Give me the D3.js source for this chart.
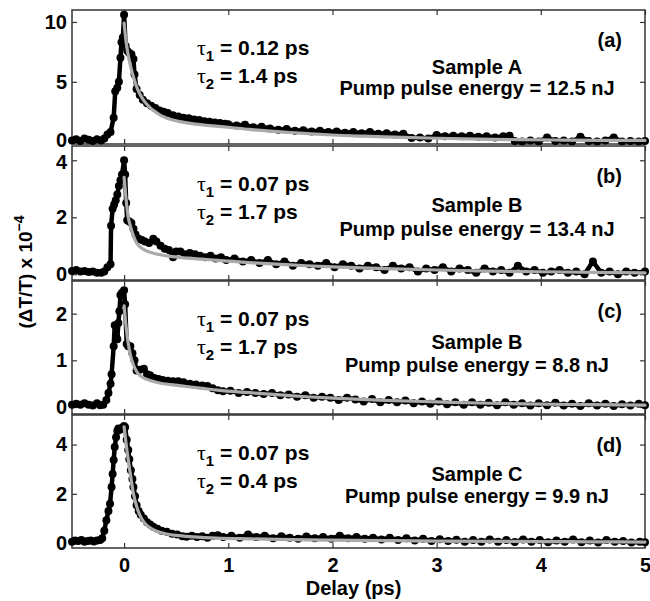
<!DOCTYPE html>
<html>
<head>
<meta charset="utf-8">
<script src="https://cdn.jsdelivr.net/npm/d3@7"></script>
<style>
  body { margin: 0; background: #fff; }
  svg { display: block; font-family: "Liberation Sans", Arial, Helvetica, sans-serif; font-weight: bold; }
</style>
</head>
<body>
<svg id="chart" width="650" height="601"></svg>
<script>
// ---------------- DATA ----------------
const xDomain = [-0.5, 5];
const xTicks = [0, 1, 2, 3, 4, 5];
const panelLabels = ["(a)", "(b)", "(c)", "(d)"];
const sampleNames = ["Sample A", "Sample B", "Sample B", "Sample C"];
const pumpEnergies = ["12.5", "13.4", "8.8", "9.9"];
const tau1Values = ["0.12", "0.07", "0.07", "0.07"];
const tau2Values = ["1.4", "1.7", "1.7", "0.4"];
const yDomains = [[-0.2, 11], [-0.2, 4.5], [-0.15, 2.7], [-0.2, 5.2]];
const yTickValues = [[0, 5, 10], [0, 2, 4], [0, 1, 2], [0, 2, 4]];

// measured points [delay (ps), ΔT/T x1e-4]
const dataA = [[-0.5,0.1],[-0.46,0.2],[-0.42,0.05],[-0.38,0.25],[-0.34,0.15],[-0.3,0.05],[-0.26,0.2],[-0.22,0.1],[-0.19,0.25],[-0.16,0.6],[-0.13,0.8],[-0.1,2.0],[-0.085,4.2],[-0.065,4.5],[-0.05,5.0],[-0.035,7.0],[-0.025,8.3],[-0.012,8.7],[0.0,10.6],[0.015,8.0],[0.03,7.6],[0.05,7.4],[0.07,7.3],[0.09,6.9],[0.1,5.6],[0.12,4.4],[0.15,3.9],[0.18,3.5],[0.22,3.2],[0.26,3.0],[0.3,2.8],[0.34,2.6],[0.38,2.5],[0.42,2.4],[0.47,2.2],[0.52,2.1],[0.57,2.0],[0.62,1.95],[0.67,1.85],[0.72,1.8],[0.77,1.7],[0.82,1.65],[0.87,1.6],[0.92,1.55],[0.97,1.5],
  [1.0,1.45],[1.08,1.35],[1.16,1.4],[1.24,1.2],[1.32,1.25],[1.4,1.1],[1.48,1.0],[1.56,1.05],[1.64,0.9],[1.72,0.95],[1.8,0.85],[1.88,0.9],[1.96,0.8],[2.04,0.85],[2.12,0.75],[2.2,0.8],[2.28,0.7],[2.36,0.8],[2.44,0.65],[2.52,0.7],[2.6,0.6],[2.68,0.65],[2.76,0.3],[2.84,0.35],[2.92,0.25],[3.0,0.55],[3.08,0.45],[3.16,0.5],[3.24,0.45],[3.32,0.5],[3.4,0.4],[3.48,0.45],[3.56,0.35],[3.64,0.45],[3.7,0.5],[3.75,0.05],[3.82,0.0],[3.9,0.1],[3.98,0.0],[4.06,0.35],[4.14,0.05],[4.22,0.1],[4.3,0.0],[4.38,0.4],[4.46,0.05],[4.54,0.0],[4.62,0.1],[4.7,0.35],[4.78,0.0],[4.86,0.05],[4.94,0.0],[5.0,0.05]];
const fitA = [[0,9.9],[0.02,8.3],[0.04,7.2],[0.06,6.4],[0.08,5.7],[0.1,5.1],[0.12,4.6],[0.15,4.0],[0.18,3.55],[0.22,3.1],[0.26,2.75],[0.3,2.5],[0.35,2.2],[0.4,2.0],[0.47,1.8],[0.55,1.65],[0.65,1.5],[0.75,1.4],[0.9,1.28],[1.0,1.2],[1.2,1.02],[1.4,0.88],[1.6,0.76],[1.8,0.65],[2.0,0.55],[2.3,0.45],[2.6,0.37],[3.0,0.28],[3.4,0.21],[3.8,0.16],[4.2,0.13],[4.6,0.11],[5.0,0.1]];

const dataB = [[-0.5,0.12],[-0.46,0.15],[-0.42,0.1],[-0.38,0.12],[-0.34,0.08],[-0.3,0.1],[-0.26,0.05],[-0.22,0.05],[-0.19,0.1],[-0.16,0.25],[-0.13,0.35],[-0.125,1.7],[-0.11,2.3],[-0.095,2.45],[-0.08,2.6],[-0.065,2.8],[-0.05,3.1],[-0.035,3.3],[-0.02,3.5],[0.0,4.0],[0.01,3.5],[0.02,2.5],[0.03,1.9],[0.05,1.85],[0.07,1.8],[0.09,1.6],[0.11,1.4],[0.14,1.25],[0.17,1.2],[0.2,1.15],[0.24,1.1],[0.28,1.25],[0.31,1.15],[0.35,1.0],[0.39,0.9],[0.43,0.85],[0.47,0.6],[0.5,0.8],[0.54,0.8],[0.58,0.7],[0.63,0.75],[0.68,0.7],[0.73,0.65],[0.78,0.6],[0.83,0.65],[0.88,0.55],[0.93,0.6],[0.98,0.5],
  [1.06,0.55],[1.14,0.45],[1.22,0.5],[1.3,0.4],[1.38,0.5],[1.46,0.35],[1.54,0.45],[1.62,0.3],[1.7,0.4],[1.78,0.35],[1.86,0.3],[1.94,0.4],[2.02,0.25],[2.1,0.35],[2.18,0.3],[2.26,0.2],[2.34,0.3],[2.42,0.25],[2.5,0.15],[2.58,0.3],[2.66,0.2],[2.74,0.25],[2.82,0.1],[2.9,0.2],[2.98,0.15],[3.06,0.25],[3.14,0.1],[3.22,0.2],[3.3,0.15],[3.38,0.05],[3.46,0.2],[3.54,0.1],[3.62,0.15],[3.7,0.05],[3.78,0.3],[3.86,0.1],[3.94,0.15],[4.02,0.05],[4.1,0.1],[4.18,0.15],[4.26,0.05],[4.34,0.1],[4.42,0.0],[4.5,0.45],[4.58,0.05],[4.66,0.1],[4.74,0.0],[4.82,0.1],[4.9,0.05],[5.0,0.1]];
const fitB = [[0,3.4],[0.02,2.6],[0.04,2.0],[0.06,1.7],[0.08,1.45],[0.1,1.25],[0.12,1.1],[0.15,0.97],[0.2,0.85],[0.25,0.77],[0.3,0.72],[0.4,0.65],[0.5,0.61],[0.6,0.57],[0.75,0.53],[0.9,0.49],[1.0,0.46],[1.25,0.4],[1.5,0.35],[1.75,0.3],[2.0,0.26],[2.5,0.2],[3.0,0.15],[3.5,0.11],[4.0,0.09],[4.5,0.07],[5.0,0.05]];

const dataC = [[-0.5,0.05],[-0.46,0.07],[-0.42,0.05],[-0.38,0.08],[-0.34,0.05],[-0.3,0.03],[-0.26,0.08],[-0.23,0.04],[-0.2,0.05],[-0.17,0.15],[-0.15,0.3],[-0.13,0.5],[-0.12,0.7],[-0.1,1.3],[-0.09,1.75],[-0.075,1.5],[-0.065,1.45],[-0.055,1.8],[-0.045,2.05],[-0.035,2.4],[-0.02,2.45],[0.0,2.5],[0.01,2.2],[0.025,1.35],[0.04,1.3],[0.06,1.3],[0.08,1.15],[0.1,1.0],[0.12,0.78],[0.15,0.8],[0.19,0.82],[0.22,0.7],[0.25,0.68],[0.29,0.62],[0.33,0.6],[0.37,0.58],[0.42,0.56],[0.47,0.55],[0.52,0.55],[0.57,0.53],[0.63,0.5],[0.69,0.48],[0.75,0.46],[0.8,0.45],[0.85,0.4],[0.9,0.36],[0.95,0.34],
  [1.02,0.35],[1.1,0.3],[1.18,0.32],[1.26,0.3],[1.34,0.28],[1.42,0.3],[1.5,0.25],[1.58,0.27],[1.66,0.22],[1.74,0.25],[1.82,0.2],[1.9,0.22],[1.98,0.2],[2.06,0.15],[2.14,0.2],[2.22,0.16],[2.3,0.12],[2.38,0.17],[2.46,0.1],[2.54,0.15],[2.62,0.1],[2.7,0.14],[2.78,0.08],[2.86,0.12],[2.94,0.07],[3.02,0.12],[3.1,0.06],[3.18,0.1],[3.26,0.05],[3.34,0.1],[3.42,0.05],[3.5,0.09],[3.58,0.04],[3.66,0.1],[3.74,0.05],[3.82,0.08],[3.9,0.03],[3.98,0.08],[4.06,0.04],[4.14,0.09],[4.22,0.03],[4.3,0.07],[4.38,0.02],[4.46,0.08],[4.54,0.03],[4.62,0.07],[4.7,0.02],[4.78,0.06],[4.86,0.03],[4.94,0.07],[5.0,0.04]];
const fitC = [[0,2.17],[0.02,1.7],[0.04,1.36],[0.06,1.12],[0.09,0.9],[0.12,0.76],[0.15,0.68],[0.19,0.62],[0.25,0.57],[0.35,0.51],[0.45,0.48],[0.6,0.44],[0.75,0.4],[0.9,0.36],[1.0,0.34],[1.25,0.3],[1.5,0.26],[1.75,0.22],[2.0,0.19],[2.5,0.14],[3.0,0.11],[3.5,0.08],[4.0,0.06],[4.5,0.05],[5.0,0.04]];

const dataD = [[-0.5,0.05],[-0.47,0.1],[-0.44,0.08],[-0.41,0.12],[-0.38,0.05],[-0.35,0.08],[-0.32,0.1],[-0.29,0.06],[-0.26,0.1],[-0.23,0.12],[-0.21,0.2],[-0.19,0.5],[-0.17,0.93],[-0.15,1.3],[-0.135,1.6],[-0.12,2.28],[-0.11,2.8],[-0.1,3.37],[-0.09,3.9],[-0.077,4.3],[-0.065,4.55],[-0.055,4.65],[-0.04,4.6],[-0.025,4.65],[-0.013,4.7],[0.0,4.75],[0.01,4.7],[0.025,4.2],[0.04,3.78],[0.05,3.4],[0.065,2.96],[0.08,2.6],[0.09,2.28],[0.105,1.9],[0.12,1.54],[0.14,1.3],[0.16,1.15],[0.19,1.0],[0.22,0.85],[0.25,0.75],[0.28,0.66],[0.32,0.58],[0.36,0.5],[0.41,0.46],[0.46,0.38],[0.51,0.35],[0.56,0.28],[0.6,0.26],[0.65,0.3],[0.7,0.25],[0.75,0.28],[0.8,0.22],[0.85,0.3],[0.9,0.32],[0.95,0.25],
  [1.03,0.3],[1.11,0.22],[1.19,0.35],[1.27,0.25],[1.35,0.3],[1.43,0.2],[1.51,0.28],[1.59,0.22],[1.67,0.18],[1.75,0.27],[1.83,0.2],[1.91,0.25],[1.99,0.18],[2.07,0.3],[2.15,0.2],[2.23,0.25],[2.31,0.18],[2.39,0.22],[2.47,0.15],[2.55,0.22],[2.63,0.12],[2.71,0.2],[2.79,0.1],[2.87,0.18],[2.95,0.08],[3.03,0.16],[3.11,0.08],[3.19,0.14],[3.27,0.05],[3.35,0.12],[3.43,0.05],[3.51,0.15],[3.59,0.05],[3.67,0.12],[3.75,0.04],[3.83,0.15],[3.91,0.05],[3.99,0.12],[4.07,0.03],[4.15,0.1],[4.23,0.05],[4.31,0.15],[4.39,0.03],[4.47,0.1],[4.55,0.02],[4.63,0.12],[4.71,0.05],[4.79,0.08],[4.87,0.02],[4.95,0.05],[5.0,0.03]];
const fitD = [[0,4.72],[0.02,4.0],[0.04,3.37],[0.06,2.8],[0.09,2.0],[0.12,1.5],[0.15,1.14],[0.19,0.85],[0.25,0.62],[0.32,0.47],[0.41,0.37],[0.5,0.31],[0.67,0.25],[0.89,0.2],[1.2,0.17],[1.6,0.14],[2.0,0.12],[2.5,0.1],[3.0,0.08],[3.5,0.07],[4.0,0.06],[4.5,0.05],[5.0,0.04]];

const measured = [dataA, dataB, dataC, dataD];
const fits = [fitA, fitB, fitC, fitD];

// ---------------- LAYOUT ----------------
const plotLeft = 72, plotRight = 645;
const panelTops = [10, 146, 281, 415];
const panelBottoms = [144, 280, 414, 548];
const sampleDy = [64, 66, 68, 66];
const pumpDy = [85, 90, 91, 88];
const textX = 477;
const FS = "20px";
// small vertical nudges of tick labels so neighbouring panels' labels do not collide
const bottomTickNudge = [-2, 0, 0, 0];
const topTickNudge = [0, 2, 0, 0];

const svg = d3.select("#chart");
const x = d3.scaleLinear().domain(xDomain).range([plotLeft, plotRight]);
const frameColor = "#333";

measured.forEach((data, i) => {
  const top = panelTops[i], bottom = panelBottoms[i];
  const y = d3.scaleLinear().domain(yDomains[i]).range([bottom, top]);
  const g = svg.append("g");

  // axes (inside ticks, Matlab-style)
  const left = g.append("g").attr("transform", `translate(${plotLeft},0)`)
    .call(d3.axisLeft(y).tickValues(yTickValues[i]).tickSizeInner(-5).tickSizeOuter(0).tickPadding(5)
      .tickFormat(d3.format("d")));
  const right = g.append("g").attr("transform", `translate(${plotRight},0)`)
    .call(d3.axisRight(y).tickValues(yTickValues[i]).tickSizeInner(-5).tickSizeOuter(0).tickFormat(""));
  const topAx = g.append("g").attr("transform", `translate(0,${top})`)
    .call(d3.axisTop(x).tickValues(xTicks).tickSizeInner(-5).tickSizeOuter(0).tickFormat(""));
  const bottomAx = g.append("g").attr("transform", `translate(0,${bottom})`)
    .call(d3.axisBottom(x).tickValues(xTicks).tickSizeInner(-5).tickSizeOuter(0).tickPadding(10)
      .tickFormat(i === 3 ? d3.format("d") : ""));
  [left, right, topAx, bottomAx].forEach(a => {
    a.select(".domain").remove();
    a.selectAll("line").attr("stroke", frameColor).attr("stroke-width", 1.2);
    a.selectAll("text").attr("fill", "#000").style("font-size", FS).style("font-weight", "bold")
      .style("font-family", '"Liberation Sans", Arial, sans-serif');
  });
  const yt = yTickValues[i];
  left.selectAll(".tick").filter(d => d === yt[0]).select("text").attr("y", bottomTickNudge[i]);
  left.selectAll(".tick").filter(d => d === yt[yt.length - 1]).select("text").attr("y", topTickNudge[i]);

  g.append("rect").attr("x", plotLeft).attr("y", top)
    .attr("width", plotRight - plotLeft).attr("height", bottom - top)
    .attr("fill", "none").attr("stroke", frameColor).attr("stroke-width", 1.5);

  const line = d3.line().x(d => x(d[0])).y(d => y(d[1]));
  g.append("path").datum(data).attr("d", line)
    .attr("fill", "none").attr("stroke", "#000").attr("stroke-width", 4.5).attr("stroke-linejoin", "round");
  g.append("g").selectAll("circle").data(data).join("circle")
    .attr("cx", d => x(d[0])).attr("cy", d => y(d[1])).attr("r", 4).attr("fill", "#000");
  g.append("path").datum(fits[i]).attr("d", d3.line().curve(d3.curveMonotoneX).x(d => x(d[0])).y(d => y(d[1])))
    .attr("fill", "none").attr("stroke", "#aaaaaa").attr("stroke-width", 3.2).attr("stroke-linecap", "round");

  // annotations
  const tauLine = (base, sub, val) => {
    const t = g.append("text").attr("x", 197).attr("y", top + base).style("font-size", "21px");
    t.append("tspan").text("τ").style("font-family", '"Liberation Serif", "DejaVu Serif", serif').style("font-weight", "normal").style("font-size", "22px");
    t.append("tspan").text(sub).attr("dy", 6).style("font-size", "15px");
    t.append("tspan").text(` = ${val} ps`).attr("dy", -6);
  };
  tauLine(45, "1", tau1Values[i]);
  tauLine(73, "2", tau2Values[i]);

  g.append("text").attr("x", 622).attr("y", top + 37).attr("text-anchor", "end")
    .style("font-size", FS).text(panelLabels[i]);
  g.append("text").attr("x", textX).attr("y", top + sampleDy[i]).attr("text-anchor", "middle")
    .style("font-size", FS).text(sampleNames[i]);
  g.append("text").attr("x", textX).attr("y", top + pumpDy[i]).attr("text-anchor", "middle")
    .style("font-size", FS).text(`Pump pulse energy = ${pumpEnergies[i]} nJ`);
});

// axis titles
svg.append("text").attr("x", (plotLeft + plotRight) / 2 - 5).attr("y", 595).attr("text-anchor", "middle")
  .style("font-size", FS).text("Delay (ps)");
const yl = svg.append("text").attr("transform", "translate(32,272) rotate(-90)").attr("text-anchor", "middle")
  .style("font-size", "19px");
yl.append("tspan").text("(ΔT/T) x 10");
yl.append("tspan").text("−4").attr("dy", -8).style("font-size", "14px");
</script>
</body>
</html>
